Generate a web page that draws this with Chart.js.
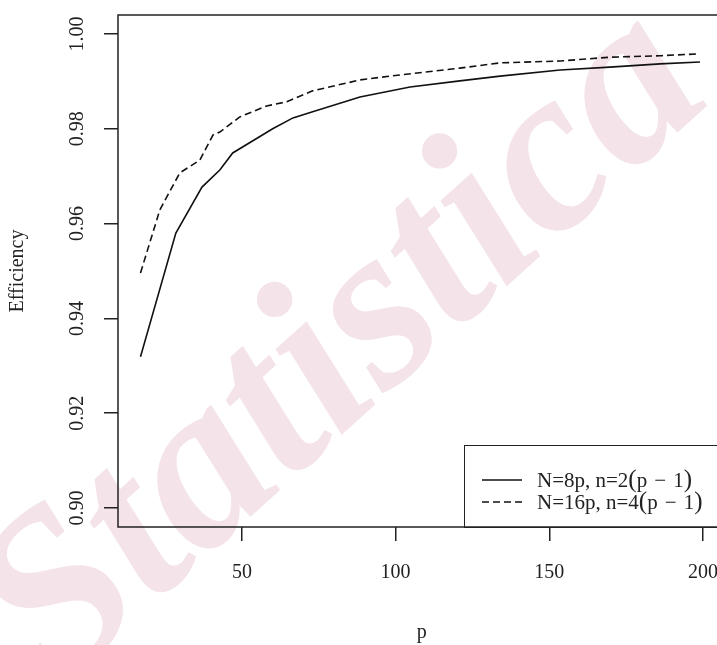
<!DOCTYPE html>
<html>
<head>
<meta charset="utf-8">
<script src="https://cdn.jsdelivr.net/npm/chart.js@4.4.1/dist/chart.umd.min.js"></script>
<style>
  html, body { margin: 0; padding: 0; background: #fff; overflow: hidden; }
  #wrap { position: relative; width: 760px; height: 645px; }
  #legend {
    position: absolute; left: 464px; top: 445px; width: 262px; height: 83px;
    box-sizing: border-box; border: 1.5px solid #222;
    font-family: "Liberation Serif", serif; font-size: 21px; color: #222;
  }
  .row { position: absolute; left: 17px; height: 24px; display: flex; align-items: center; white-space: nowrap; }
  .row svg { margin-right: 15px; }
  .par { font-size: 25px; line-height: 20px; }
  .op { margin: 0 0.34em; }
</style>
</head>
<body>
<div id="wrap">
  <canvas id="graf"></canvas>
  <div id="legend"></div>
</div>
<script>
// p values and efficiency
const pSolid = [17, 28.5, 37, 42.8, 47, 60, 66.6, 73, 88.4, 104.7, 120.9, 134, 153.5, 169.7, 186, 199];
const effSolid = [0.9319, 0.958, 0.9677, 0.9713, 0.9749, 0.980, 0.9823, 0.9836, 0.9867, 0.9888, 0.9901, 0.9911, 0.9924, 0.9930, 0.9937, 0.9941];

const pDashed = [17, 23.3, 28.2, 29.8, 36.3, 40.6, 42.8, 49.3, 58, 64.6, 73, 88.4, 98.2, 120.9, 134, 153.5, 169.7, 186, 198.4];
const effDashed = [0.9496, 0.9629, 0.9688, 0.9707, 0.9734, 0.9787, 0.9793, 0.9825, 0.9848, 0.9857, 0.988, 0.9903, 0.9911, 0.9928, 0.9939, 0.9943, 0.9951, 0.9954, 0.9958];

const seriesLabels = ["N=8p, n=2(p − 1)", "N=16p, n=4(p − 1)"];
const seriesDash = [[], [7, 4]];

const xTicks = [50, 100, 150, 200];
const yTicks = [0.90, 0.92, 0.94, 0.96, 0.98, 1.00];

const toPoints = (xs, ys) => xs.map((x, i) => ({ x, y: ys[i] }));

// legend, drawn as html inside the plot box
const legend = document.getElementById("legend");
seriesLabels.forEach((lab, i) => {
  const row = document.createElement("div");
  row.className = "row";
  row.style.top = (22 + i * 22) + "px";
  const dash = seriesDash[i].length ? `stroke-dasharray="${seriesDash[i].join(" ")}"` : "";
  const txt = lab.replace("(", '<span class="par">(</span>')
    .replace(")", '<span class="par">)</span>')
    .replace(" − ", '<span class="op">−</span>');
  row.innerHTML = `<svg width="40" height="4"><line x1="0" y1="2" x2="40" y2="2" stroke="#111" stroke-width="1.6" ${dash}/></svg><span>${txt}</span>`;
  legend.appendChild(row);
});

const watermark = {
  id: "watermark",
  beforeDraw(chart) {
    const c = chart.ctx;
    c.save();
    c.translate(345, 350);
    c.rotate(-42 * Math.PI / 180);
    c.font = "italic bold 235px 'Liberation Serif'";
    c.textAlign = "center";
    c.textBaseline = "middle";
    c.fillStyle = "#f4e3e8";
    c.fillText("Statistica", 0, 0);
    c.restore();
  }
};

const frame = {
  id: "frame",
  afterDraw(chart) {
    const a = chart.chartArea, c = chart.ctx;
    c.save();
    c.strokeStyle = "#222";
    c.lineWidth = 1.5;
    c.strokeRect(a.left, a.top, a.right - a.left, a.bottom - a.top);
    c.restore();
  }
};

const font = { family: "'Liberation Serif'", size: 20 };
const axisGrid = { drawOnChartArea: false, drawTicks: true, tickLength: 14, color: "#222", lineWidth: 1.5 };

new Chart(document.getElementById("graf"), {
  type: "line",
  data: {
    datasets: [
      { label: seriesLabels[0], data: toPoints(pSolid, effSolid), borderColor: "#111", borderWidth: 1.6, borderDash: seriesDash[0], pointRadius: 0, fill: false },
      { label: seriesLabels[1], data: toPoints(pDashed, effDashed), borderColor: "#111", borderWidth: 1.6, borderDash: seriesDash[1], pointRadius: 0, fill: false }
    ]
  },
  options: {
    responsive: true,
    maintainAspectRatio: false,
    animation: false,
    layout: { padding: { left: 0, top: 15, right: 34.5, bottom: 0 } },
    plugins: { legend: { display: false }, tooltip: { enabled: false } },
    scales: {
      x: {
        type: "linear", min: 9.68, max: 207.32,
        afterBuildTicks: s => { s.ticks = xTicks.map(v => ({ value: v })); },
        afterFit: s => { s.height = 118; s.paddingLeft = 0; s.paddingRight = 0; },
        grid: axisGrid,
        border: { display: false },
        ticks: { font, color: "#222", padding: 20, callback: v => String(v) },
        title: { display: true, text: "p", font, color: "#222", padding: { top: 0, bottom: 0 } }
      },
      y: {
        min: 0.896, max: 1.004,
        afterBuildTicks: s => { s.ticks = yTicks.map(v => ({ value: v })); },
        afterFit: s => { s.width = 118; s.paddingTop = 0; s.paddingBottom = 0; },
        grid: axisGrid,
        border: { display: false },
        ticks: { font, color: "#222", padding: 9, minRotation: 90, maxRotation: 90, crossAlign: "center", callback: v => v.toFixed(2) },
        title: { display: true, text: "Efficiency", font, color: "#222", padding: { top: 6, bottom: 0 } }
      }
    }
  },
  plugins: [watermark, frame]
});
</script>
</body>
</html>
